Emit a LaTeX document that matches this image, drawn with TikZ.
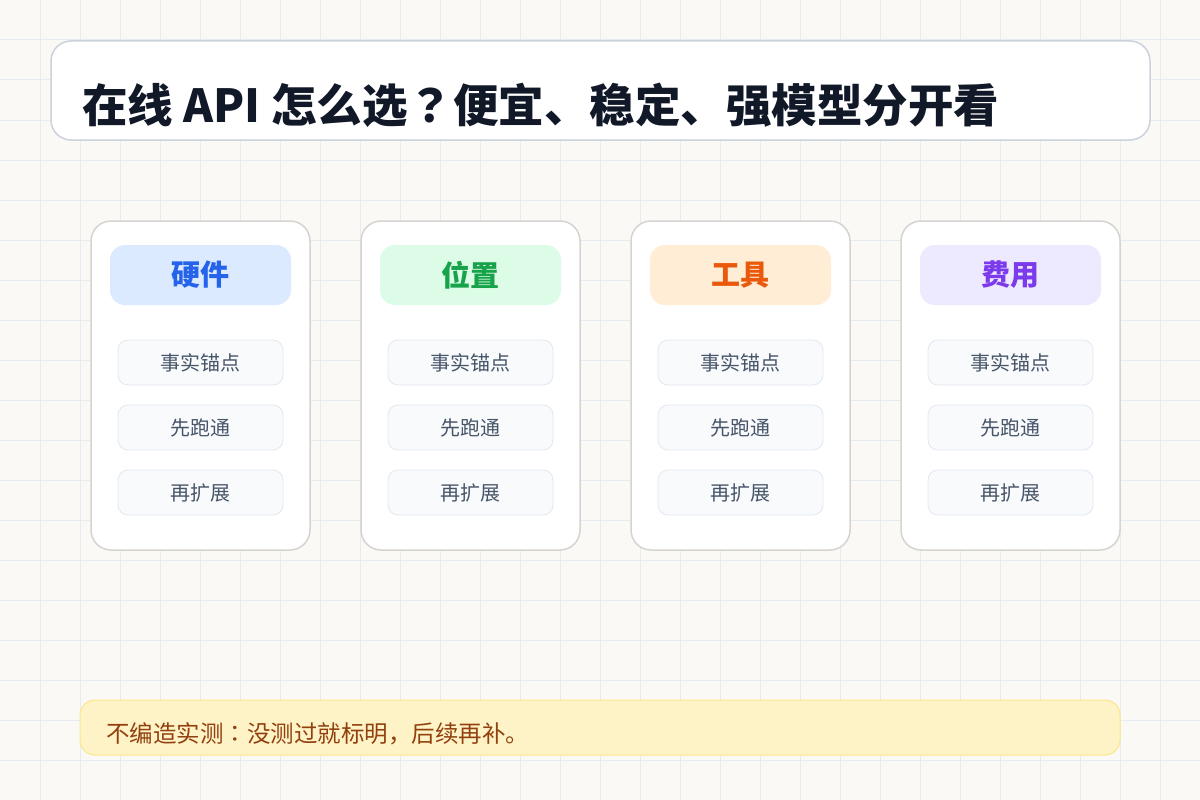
\documentclass[tikz,border=0pt]{standalone}
\usepackage{fontspec}
\setmainfont{Noto Sans CJK SC}
\newfontfamily\tcpunct{Noto Sans CJK TC}
\newcommand{\cq}{{\tcpunct ？}}
\newcommand{\cc}{{\tcpunct ：}}
\definecolor{bgc}{HTML}{FBF9F5}
\definecolor{gridc}{HTML}{E6EBF0}
\definecolor{titlec}{HTML}{111827}
\definecolor{tborder}{HTML}{CBD2DC}
\definecolor{cborder}{HTML}{D6D3D1}
\definecolor{iborder}{HTML}{E2E8F0}
\definecolor{ifill}{HTML}{F8FAFC}
\definecolor{itext}{HTML}{475569}
\definecolor{bluef}{HTML}{DBEAFE}\definecolor{bluet}{HTML}{2563EB}
\definecolor{greenf}{HTML}{DCFCE7}\definecolor{greent}{HTML}{16A34A}
\definecolor{orangef}{HTML}{FFEDD5}\definecolor{oranget}{HTML}{EA580C}
\definecolor{purplef}{HTML}{EDE9FE}\definecolor{purplet}{HTML}{7C3AED}
\definecolor{notef}{HTML}{FEF3C7}\definecolor{noteb}{HTML}{FDE68A}\definecolor{notet}{HTML}{92400E}
\tikzset{
  titlebox/.style={draw=tborder, line width=1.5pt, fill=white, rounded corners=20pt},
  cardbox/.style={draw=cborder, line width=1.5pt, fill=white, rounded corners=20pt},
  headbox/.style={rounded corners=15pt},
  itembox/.style={draw=iborder, line width=0.8pt, fill=ifill, rounded corners=10pt},
  itemtext/.style={text=itext, font=\fontsize{20}{22}\selectfont, inner sep=0pt},
  notebox/.style={draw=noteb, line width=1pt, fill=notef, rounded corners=15pt},
}
\begin{document}
\begin{tikzpicture}[x=1pt,y=-1pt]
\useasboundingbox (0,0) rectangle (1200,800);
\fill[bgc] (0,0) rectangle (1200,800);
\foreach \i in {40,80,...,1160} \draw[gridc, line width=1pt] (\i,0) -- (\i,800);
\foreach \j in {40,80,...,760} \draw[gridc, line width=1pt] (0,\j) -- (1200,\j);
% title
\draw[titlebox] (51,41) rectangle (1150,140);
\node[anchor=west, inner sep=0pt, text=titlec, font=\fontsize{45.5}{50}\selectfont\bfseries] (title) at (82,105) {在线 API 怎么选\cq 便宜、稳定、强模型分开看};
% cards
\foreach \k/\lab/\fc/\tc in {0/硬件/bluef/bluet, 1/位置/greenf/greent, 2/工具/orangef/oranget, 3/费用/purplef/purplet}{
  \pgfmathsetmacro{\x}{91+270*\k}
  \draw[cardbox] (\x,221) rectangle (\x+219,550);
  \fill[\fc, headbox] (\x+19,245) rectangle (\x+200,305);
  \node[inner sep=0pt, text=\tc, font=\fontsize{29}{32}\selectfont\bfseries] (head\k) at (\x+109.5,275) {\lab};
  \draw[itembox] (\x+27,340) rectangle (\x+192,385);
  \node[itemtext] (a\k) at (\x+109.5,363) {事实锚点};
  \draw[itembox] (\x+27,405) rectangle (\x+192,450);
  \node[itemtext] (b\k) at (\x+109.5,428) {先跑通};
  \draw[itembox] (\x+27,470) rectangle (\x+192,515);
  \node[itemtext] (c\k) at (\x+109.5,493) {再扩展};
}
% note
\draw[notebox] (80,700) rectangle (1120,755);
\node[anchor=west, inner sep=0pt, text=notet, font=\fontsize{23.5}{26}\selectfont] (note) at (106,734) {不编造实测\cc 没测过就标明，后续再补。};
\end{tikzpicture}
\end{document}
